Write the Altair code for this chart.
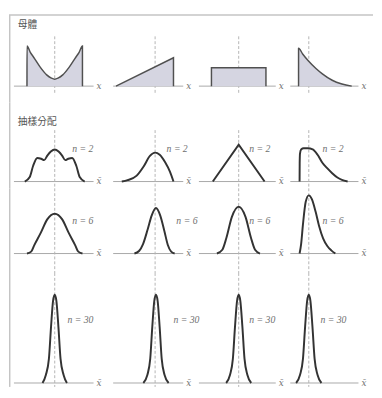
import altair as alt
import pandas as pd

section_titles = ["母體", "抽樣分配"]
sample_sizes = [2, 6, 30]
axis_names = ["x", "x\u0304"]

# ---- population (row 0) ----
pop_u_x = [-1, -0.999, -0.88, -0.76, -0.53, -0.29, -0.12, 0, 0.12, 0.29, 0.53, 0.76, 0.88, 0.999, 1]
pop_u_y = [0, 0.75, 0.63, 0.54, 0.36, 0.21, 0.15, 0.13, 0.15, 0.21, 0.36, 0.54, 0.63, 0.75, 0]
pop_ramp_x = [0, 1, 1]
pop_ramp_y = [0, 0.53, 0]
pop_unif_x = [-1, -1, 1, 1]
pop_unif_y = [0, 0.345, 0.345, 0]
pop_exp_x = [0, 0.001, 0.4, 0.97, 1.7, 2.33, 3.29, 4.24, 5.2]
pop_exp_y = [0, 0.71, 0.6, 0.47, 0.33, 0.23, 0.11, 0.04, 0]

# ---- n = 2 ----
n2_u_x = [-1.08, -0.9, -0.78, -0.63, -0.49, -0.38, -0.26, -0.14, 0, 0.14, 0.26, 0.38, 0.49, 0.63, 0.78, 0.9, 1.08]
n2_u_y = [0, 0.085, 0.29, 0.44, 0.425, 0.4, 0.49, 0.56, 0.6, 0.56, 0.49, 0.4, 0.425, 0.44, 0.29, 0.085, 0]
n2_ramp_x = [0.1, 0.2, 0.36, 0.48, 0.59, 0.68, 0.76, 0.855, 0.94, 1.0]
n2_ramp_y = [0, 0.025, 0.11, 0.28, 0.48, 0.54, 0.5, 0.36, 0.18, 0]
n2_unif_x = [-0.95, 0, 0.95]
n2_unif_y = [0, 0.69, 0]
n2_exp_x = [0.1, 0.11, 0.14, 0.25, 0.5, 0.9, 1.38, 1.86, 2.33, 2.8, 3.29, 3.8, 4.24, 4.8]
n2_exp_y = [0, 0.35, 0.52, 0.6, 0.62, 0.62, 0.6, 0.5, 0.35, 0.25, 0.155, 0.075, 0.03, 0]

# ---- n = 6 ----
n6_u_x = [-1, -0.85, -0.74, -0.5, -0.27, 0, 0.27, 0.5, 0.74, 0.85, 1]
n6_u_y = [0, 0.03, 0.13, 0.33, 0.54, 0.63, 0.54, 0.33, 0.13, 0.03, 0]
n6_ramp_x = [0.32, 0.4, 0.47, 0.55, 0.62, 0.695, 0.77, 0.84, 0.9, 0.96, 1.02]
n6_ramp_y = [0, 0.04, 0.15, 0.38, 0.6, 0.72, 0.6, 0.36, 0.14, 0.03, 0]
n6_unif_x = [-0.8, -0.6, -0.45, -0.25, 0, 0.25, 0.45, 0.6, 0.78]
n6_unif_y = [0, 0.06, 0.25, 0.58, 0.74, 0.58, 0.25, 0.06, 0]
n6_exp_x = [0.1, 0.25, 0.43, 0.7, 1.0, 1.3, 1.67, 2.0, 2.4, 2.81, 3.2, 3.6]
n6_exp_y = [0, 0.15, 0.46, 0.82, 0.92, 0.86, 0.66, 0.44, 0.24, 0.12, 0.05, 0]

# ---- n = 30 ----
n30_y = [0, 0.08, 0.24, 0.56, 0.82, 0.88, 0.82, 0.56, 0.24, 0.08, 0]
n30_u_x = [-0.44, -0.32, -0.21, -0.133, -0.06, 0, 0.06, 0.133, 0.21, 0.32, 0.44]
n30_ramp_x = [0.475, 0.545, 0.595, 0.631, 0.666, 0.695, 0.724, 0.759, 0.795, 0.845, 0.915]
n30_unif_x = [-0.46, -0.32, -0.214, -0.136, -0.06, 0, 0.06, 0.136, 0.214, 0.32, 0.46]
n30_exp_x = [-0.24, 0.14, 0.43, 0.64, 0.84, 1.0, 1.16, 1.36, 1.57, 1.86, 2.24]

curves = [
    [(pop_u_x, pop_u_y), (pop_ramp_x, pop_ramp_y), (pop_unif_x, pop_unif_y), (pop_exp_x, pop_exp_y)],
    [(n2_u_x, n2_u_y), (n2_ramp_x, n2_ramp_y), (n2_unif_x, n2_unif_y), (n2_exp_x, n2_exp_y)],
    [(n6_u_x, n6_u_y), (n6_ramp_x, n6_ramp_y), (n6_unif_x, n6_unif_y), (n6_exp_x, n6_exp_y)],
    [(n30_u_x, n30_y), (n30_ramp_x, n30_y), (n30_unif_x, n30_y), (n30_exp_x, n30_y)],
]
interp = [
    ["monotone", "linear", "linear", "monotone"],
    ["monotone", "monotone", "linear", "monotone"],
    ["monotone"] * 4,
    ["monotone"] * 4,
]

# scale set-up per column / row
col_domains = [[-1.649, 1.614], [-0.288, 1.288], [-1.786, 1.536], [-1.762, 7.095]]
axis_spans = [[-1.47, 1.40], [-0.05, 1.17], [-1.46, 1.36], [-0.81, 5.86]]
means = [0, 0.68, 0, 1.0]
row_heights = [92, 88, 87, 117]
row_domains = [[-0.309, 1.364], [-0.127, 1.473], [-0.308, 1.031], [-0.039, 1.097]]
dash_spans = [[-0.127, 0.93], [-0.127, 0.96], [-0.308, 1.031], [-0.039, 1.097]]
label_x = [[0.63, 0.88, 0.39, 2.33], [0.63, 1.05, 0.39, 2.33], [0.46, 1.0, 0.39, 2.14]]
label_y = [0.6, 0.51, 0.63]
PANEL_W = 93

FRAME = "#c4c4c4"
AXIS = "#a8a8a8"
DASH = "#b4b4b4"
TXT = "#707070"


def panel(r, c):
    xs, ys = curves[r][c]
    df = pd.DataFrame({"x": xs, "y": ys, "i": list(range(len(xs)))})
    xsc = alt.Scale(domain=col_domains[c], nice=False, zero=False)
    ysc = alt.Scale(domain=row_domains[r], nice=False, zero=False)
    X = lambda f: alt.X(f, type="quantitative", scale=xsc, axis=None)
    Y = lambda f: alt.Y(f, type="quantitative", scale=ysc, axis=None)

    layers = []
    ax = pd.DataFrame({"x": [axis_spans[c][0]], "x2": [axis_spans[c][1]], "y": [0]})
    layers.append(alt.Chart(ax).mark_rule(color=AXIS, strokeWidth=1).encode(
        x=X("x"), x2="x2", y=Y("y")))
    md = pd.DataFrame({"x": [means[c]], "y": [dash_spans[r][1]], "y2": [dash_spans[r][0]]})
    layers.append(alt.Chart(md).mark_rule(color=DASH, strokeWidth=1, strokeDash=[3, 2]).encode(
        x=X("x"), y=Y("y"), y2="y2"))
    if r == 0:
        layers.append(alt.Chart(df).mark_area(color="#d5d5e1", opacity=1,
                                              interpolate=interp[r][c]).encode(
            x=X("x"), y=Y("y")))
        layers.append(alt.Chart(df).mark_line(color="#505050", strokeWidth=1.5,
                                              interpolate=interp[r][c]).encode(
            x=X("x"), y=Y("y"), order="i:Q"))
    else:
        layers.append(alt.Chart(df).mark_line(color="#333333", strokeWidth=2,
                                              interpolate=interp[r][c]).encode(
            x=X("x"), y=Y("y"), order="i:Q"))
        lab = pd.DataFrame({"x": [label_x[r - 1][c]], "y": [label_y[r - 1]],
                            "t": [f"n = {sample_sizes[r - 1]}"]})
        layers.append(alt.Chart(lab).mark_text(align="left", baseline="middle",
                                               font="Liberation Serif", fontStyle="italic",
                                               fontSize=10, color=TXT).encode(
            x=X("x"), y=Y("y"), text="t:N"))
    an = pd.DataFrame({"x": [axis_spans[c][1]], "y": [0], "t": [axis_names[0 if r == 0 else 1]]})
    layers.append(alt.Chart(an).mark_text(align="left", baseline="middle", dx=3,
                                          font="DejaVu Serif", fontStyle="italic",
                                          fontSize=9, color=TXT).encode(
        x=X("x"), y=Y("y"), text="t:N"))
    one = alt.Data(values=[{"k": 1}])
    if c == 0:
        h = row_heights[r]
        top = 2 if r == 0 else 0
        layers.append(alt.Chart(one).mark_rule(color=FRAME, strokeWidth=1.5).encode(
            x=alt.value(0.75), y=alt.value(top), y2=alt.value(h)))
        if r == 0:
            layers.append(alt.Chart(one).mark_rule(color=FRAME, strokeWidth=1.5).encode(
                x=alt.value(0), x2=alt.value(374), y=alt.value(2)))
        if r in (0, 1):
            layers.append(alt.Chart(one).mark_text(align="left", baseline="middle",
                                                   font="Noto Sans CJK TC", fontSize=10,
                                                   color="#555555").encode(
                x=alt.value(9), y=alt.value(12 if r == 0 else 20),
                text=alt.value(section_titles[r])))
    return alt.layer(*layers).properties(width=PANEL_W, height=row_heights[r])


panels = [panel(r, c) for r in range(4) for c in range(4)]
chart = alt.concat(*panels, columns=4, spacing=0, bounds="flush").properties(
    padding=0).configure_view(stroke=None)

chart.save("out.html", embed_options={"renderer": "svg", "actions": False})
